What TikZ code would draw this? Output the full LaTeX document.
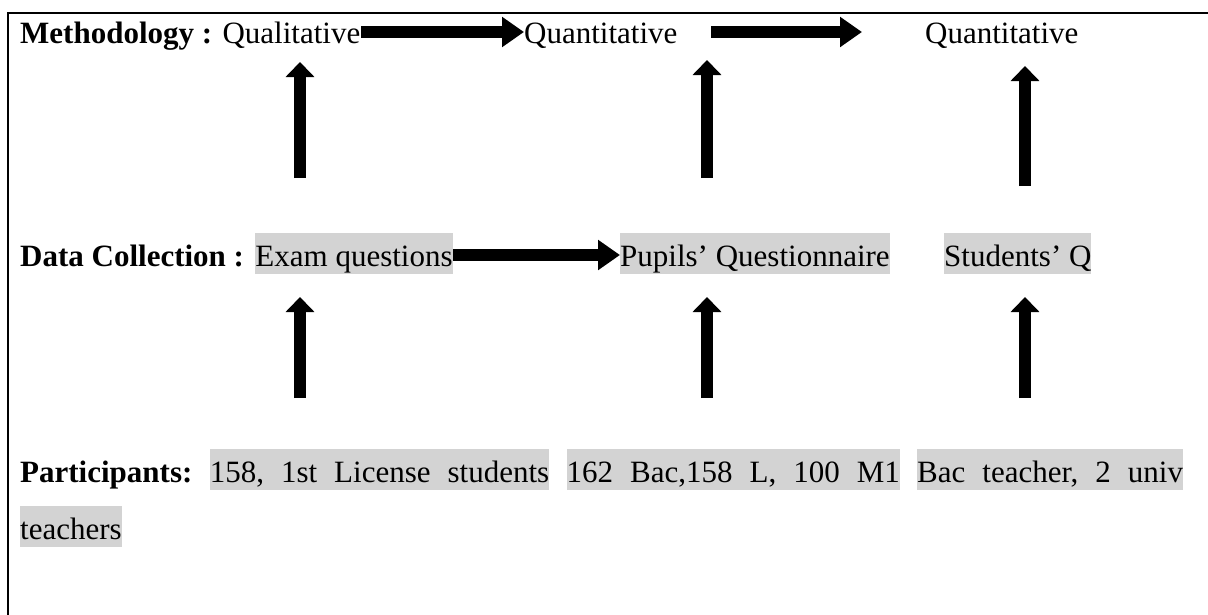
\documentclass[tikz,border=0pt]{standalone}
\usepackage{fontspec}
\setmainfont{Liberation Serif}
\usetikzlibrary{calc,arrows.meta}
\definecolor{hl}{RGB}{211,211,211}
\tikzset{
  txt/.style={anchor=base west, inner sep=0pt, font=\fontsize{31}{37}\selectfont},
  hltxt/.style={txt, fill=hl, text height=33pt, text depth=8pt},
  blockarrow/.style={line width=12pt, -{Triangle[width=28pt,length=15pt]}},
  harrow/.style={line width=12pt, -{Triangle[width=29pt,length=22pt]}},
  frame/.style={line width=2.5pt}
}
\begin{document}
\begin{tikzpicture}[x=1pt,y=-1pt]
\useasboundingbox (0,0) rectangle (1208,614);
% frame
\coordinate (fbl) at (8,620);
\coordinate (ftl) at (8,13);
\coordinate (ftr) at (1215,13);
\draw[frame] (fbl) -- (ftl) -- (ftr);

% Row 1
\node[txt] (m1) at (20,43) {\textbf{Methodology :} Qualitative};
\node[txt] (q1) at (524,43) {Quantitative};
\node[txt] (q2) at (925,43) {Quantitative};
\coordinate (a2s) at (711,32);
\coordinate (a2e) at (862,32);
\draw[harrow] ($(m1.base east)+(1,-11)$) -- ($(q1.base west)+(0,-11)$);
\draw[harrow] (a2s) -- (a2e);

% Row 2
\node[txt] (d1) at (20,266) {\textbf{Data Collection :}};
\node[hltxt] (e1) at ($(d1.base east)+(11,0)$) {Exam questions};
\node[hltxt] (p1) at (620,266) {Pupils’ Questionnaire};
\node[hltxt] (s1) at (944,266) {Students’ Q};
\draw[harrow] ($(e1.base east)+(0,-11)$) -- ($(p1.base west)+(0,-11)$);

% Row 3
\node[txt] (pa) at (20,482) {\textbf{Participants:}};
\node[hltxt] (g1) at ($(pa.base east)+(17,0)$) {\spaceskip=17pt 158, 1st License students};
\node[hltxt] (g2) at ($(g1.base east)+(17,0)$) {\spaceskip=17pt 162 Bac,158 L, 100 M1};
\node[hltxt] (g3) at ($(g2.base east)+(17,0)$) {\spaceskip=17pt Bac teacher, 2 univ};
\node[hltxt] (g4) at (20,539) {teachers};

% vertical arrows row 2 -> row 1
\coordinate (u1b) at (300,178); \coordinate (u1t) at (300,62);
\coordinate (u2b) at (707,178); \coordinate (u2t) at (707,60);
\coordinate (u3b) at (1025,186); \coordinate (u3t) at (1025,66);
\draw[blockarrow] (u1b) -- (u1t);
\draw[blockarrow] (u2b) -- (u2t);
\draw[blockarrow] (u3b) -- (u3t);
% vertical arrows row 3 -> row 2
\coordinate (v1b) at (300,398); \coordinate (v1t) at (300,297);
\coordinate (v2b) at (707,398); \coordinate (v2t) at (707,297);
\coordinate (v3b) at (1025,398); \coordinate (v3t) at (1025,297);
\draw[blockarrow] (v1b) -- (v1t);
\draw[blockarrow] (v2b) -- (v2t);
\draw[blockarrow] (v3b) -- (v3t);
\end{tikzpicture}
\end{document}
